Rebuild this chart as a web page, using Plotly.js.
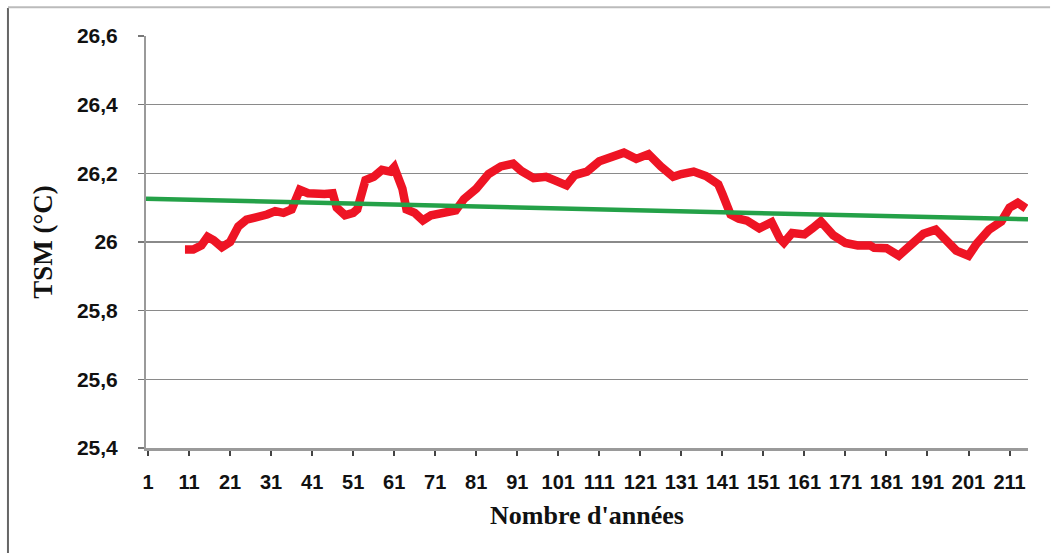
<!DOCTYPE html>
<html>
<head>
<meta charset="utf-8">
<script src="https://cdn.plot.ly/plotly-3.0.1.min.js"></script>
<style>html,body{margin:0;padding:0;background:#fff;}#chart{width:1061px;height:553px;}</style>
</head>
<body>
<div id="chart"></div>
<script>
// Red series (moving mean of SST)
const years = [10,12,14,15.5,17,19,21,23,25,28,30,32,34,36,37,38,40,42,44,46,47,49,51,52,54,56,58,60,61,63,64,66,68,70,72,74,76,78,81,84,87,90,92,95,98,100,103,105,108,111,113,115,117,120,123,126,129,131,134,137,140,141,142,143,145,147,150,153,155,156,158,161,163,165,168,171,174,177,178,181,184,187,190,193,196,198,201,203,206,209,211,213,215];
const tsm = [25.978,25.978,25.99,26.015,26.005,25.985,26.0,26.045,26.065,26.072,26.08,26.09,26.085,26.095,26.12,26.152,26.142,26.138,26.14,26.142,26.10,26.078,26.085,26.095,26.18,26.19,26.21,26.205,26.218,26.155,26.095,26.085,26.063,26.078,26.082,26.085,26.092,26.125,26.155,26.198,26.22,26.228,26.207,26.186,26.19,26.18,26.165,26.195,26.205,26.235,26.245,26.25,26.26,26.242,26.256,26.22,26.19,26.198,26.205,26.192,26.168,26.14,26.11,26.08,26.068,26.062,26.04,26.058,26.01,25.998,26.026,26.022,26.04,26.06,26.02,25.997,25.99,25.99,25.983,25.982,25.96,25.992,26.024,26.036,26.003,25.975,25.96,25.995,26.036,26.06,26.1,26.114,26.098];
// Linear trend line (endpoints)
const trendX = [0.5, 215.5];
const trendY = [26.126, 26.066];
// Axis ticks
const xTicks = [1,11,21,31,41,51,61,71,81,91,101,111,121,131,141,151,161,171,181,191,201,211];
const yTicks = [25.4,25.6,25.8,26,26.2,26.4,26.6];

const traces = [
  {x: years, y: tsm, type: 'scatter', mode: 'lines', line: {color: '#ee1424', width: 8.5, shape: 'linear'}, hoverinfo: 'skip'},
  {x: trendX, y: trendY, type: 'scatter', mode: 'lines', line: {color: '#24a148', width: 4.5}, hoverinfo: 'skip'}
];

const layout = {
  width: 1061, height: 553,
  margin: {l: 146, r: 33, t: 36, b: 105},
  paper_bgcolor: '#ffffff', plot_bgcolor: '#ffffff',
  separators: ', ',
  showlegend: false,
  xaxis: {
    range: [0.5, 215.5],
    tickvals: xTicks, ticktext: xTicks.map(String),
    showgrid: false, zeroline: false,
    showline: true, linecolor: '#9a9a9a', linewidth: 3,
    ticks: 'outside', ticklen: 5, tickcolor: '#444', tickwidth: 2,
    ticklabelstandoff: 9,
    tickfont: {family: 'Liberation Sans, Arial, sans-serif', size: 20, color: '#111', weight: 'bold'},
    title: {text: "Nombre d'années", font: {family: 'Liberation Serif, Times New Roman, serif', size: 26, color: '#111', weight: 'bold'}, standoff: 14}
  },
  yaxis: {
    range: [25.4, 26.6],
    tickvals: yTicks,
    showgrid: true, gridcolor: '#8a8a8a', gridwidth: 1.5,
    zeroline: false,
    showline: true, linecolor: '#9a9a9a', linewidth: 2,
    ticks: 'outside', ticklen: 6, tickcolor: '#777', tickwidth: 1.5,
    ticklabelstandoff: 16,
    tickfont: {family: 'Liberation Sans, Arial, sans-serif', size: 21, color: '#111', weight: 'bold'},
    title: {text: 'TSM (°C)', font: {family: 'Liberation Serif, Times New Roman, serif', size: 27, color: '#111', weight: 'bold'}, standoff: 16}
  },
  shapes: [
    {type: 'line', xref: 'paper', yref: 'paper', x0: -0.1565, x1: -0.1565, y0: 1.068, y1: -0.26, line: {color: '#666', width: 2}},
    {type: 'line', xref: 'paper', yref: 'paper', x0: -0.1565, x1: 1.025, y0: 1.07, y1: 1.07, line: {color: '#bbb', width: 2}}
  ]
};

Plotly.newPlot('chart', traces, layout, {staticPlot: true, displayModeBar: false});
</script>
</body>
</html>
